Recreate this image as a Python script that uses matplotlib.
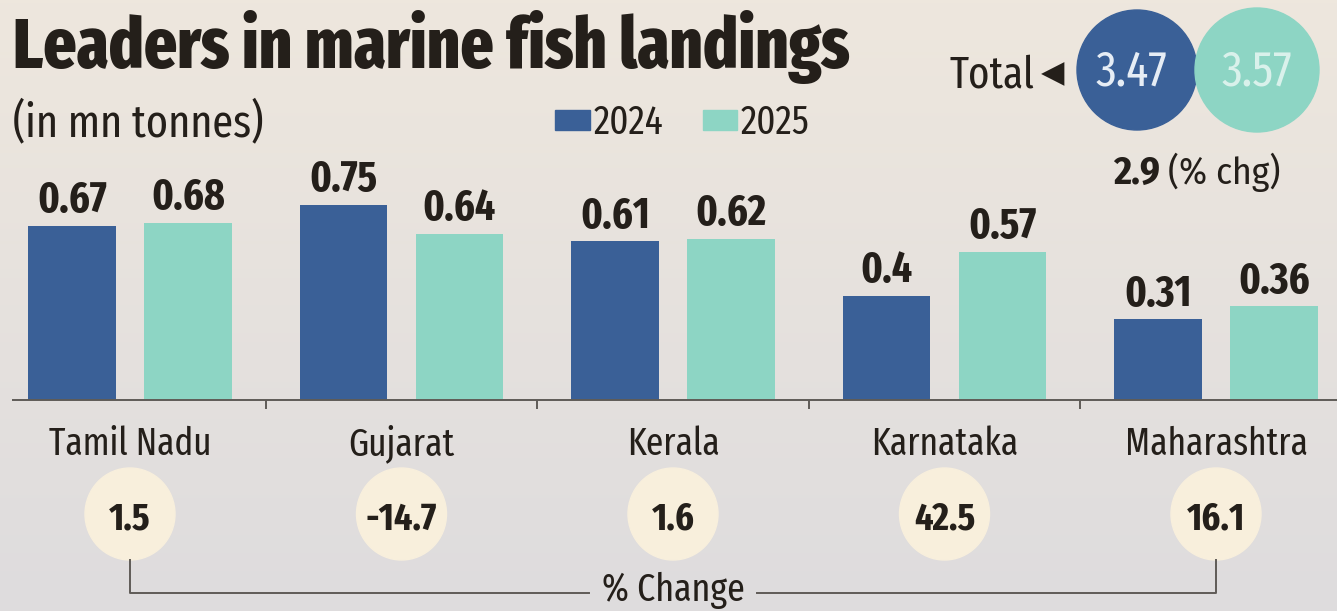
import numpy as np
import matplotlib.pyplot as plt
from matplotlib import font_manager as fm
from matplotlib.patches import Ellipse, Circle, Rectangle

# data
states = ["Tamil Nadu", "Gujarat", "Kerala", "Karnataka", "Maharashtra"]
y2024 = [0.67, 0.75, 0.61, 0.40, 0.31]
y2025 = [0.68, 0.64, 0.62, 0.57, 0.36]
labels2024 = ["0.67", "0.75", "0.61", "0.4", "0.31"]
labels2025 = ["0.68", "0.64", "0.62", "0.57", "0.36"]
pct_change = ["1.5", "-14.7", "1.6", "42.5", "16.1"]
years = ["2024", "2025"]
total_2024 = "3.47"
total_2025 = "3.57"
total_chg = "2.9"

BLUE = "#3a6097"
TEAL = "#8dd5c4"
CREAM = "#f8efdc"
INK = "#241f1a"
LINE = "#5f5b57"

have = {f.name for f in fm.fontManager.ttflist}


def pick(*cands):
    for c in cands:
        if c in have:
            return c
    return "DejaVu Sans"


COND = pick("Fira Sans Condensed", "Roboto Condensed", "IBM Plex Sans Condensed",
            "Liberation Sans Narrow")
XCOND = pick("Fira Sans Extra Condensed", "Fira Sans Condensed", "Roboto Condensed",
             "IBM Plex Sans Condensed")
NARROW = [COND, "DejaVu Sans"]
XNARROW = [XCOND, "DejaVu Sans"]
plt.rcParams["font.family"] = NARROW

W, H = 1337, 611
fig = plt.figure(figsize=(W / 100, H / 100), dpi=100)

# background + header decorations in pixel coordinates
deco = fig.add_axes([0, 0, 1, 1])
deco.set_xlim(0, W)
deco.set_ylim(H, 0)
deco.axis("off")
top = np.array([238, 231, 221]) / 255
bot = np.array([222, 220, 221]) / 255
t = np.linspace(0, 1, 200)[:, None, None]
grad = top * (1 - t) + bot * t
grad = np.repeat(grad, 2, axis=1)
deco.imshow(grad, extent=(0, W, H, 0), aspect="auto", zorder=0)

deco.text(13, 68, "Leaders in marine fish landings", fontsize=50.5,
          fontweight="heavy", color=INK, va="baseline", family=XNARROW)
deco.text(13, 136, "(in mn tonnes)", fontsize=33, color=INK, va="baseline",
          family=XNARROW)

deco.add_patch(Rectangle((555, 110), 35, 20, color=BLUE))
deco.text(594, 134, years[0], fontsize=29, color=INK, va="baseline", family=XNARROW)
deco.add_patch(Rectangle((703, 110), 34, 20, color=TEAL))
deco.text(741, 134, years[1], fontsize=29, color=INK, va="baseline", family=XNARROW)

deco.text(1034, 87, "Total", fontsize=32, color=INK, ha="right", va="baseline",
          family=XNARROW)
deco.text(1053, 74, "\u25C0", fontsize=22, color=INK, ha="center", va="center",
          family="DejaVu Sans")
deco.add_patch(Circle((1137, 70), 60, color=BLUE))
deco.add_patch(Circle((1257, 70), 62, color=TEAL))
deco.text(1131, 72, total_2024, fontsize=36, color="#e6edf5", ha="center",
          va="center", family=XNARROW)
deco.text(1257, 72, total_2025, fontsize=36, color="#d9f1eb", ha="center",
          va="center", family=XNARROW)
deco.text(1160, 184, total_chg, fontsize=28, fontweight="bold", color=INK,
          ha="right", va="baseline")
deco.text(1168, 184, "(% chg)", fontsize=27, color=INK, va="baseline")

# main chart
px_unit_x = 271.5
px_unit_y = 260
ax = fig.add_axes([12 / W, 0, (W - 12) / W, 471 / H])
ax.patch.set_visible(False)
ax.set_xlim(-118 / px_unit_x, -118 / px_unit_x + (W - 12) / px_unit_x)
ax.set_ylim(-211 / px_unit_y, 1.0)
ax.axis("off")

x = np.arange(len(states))
off = 0.2136
bw = 0.324
ax.bar(x - off, y2024, width=bw, color=BLUE, zorder=2)
ax.bar(x + off, y2025, width=bw, color=TEAL, zorder=2)

for xi, v, lab in zip(x - off, y2024, labels2024):
    ax.annotate(lab, (xi, v), xytext=(0, 10), textcoords="offset points",
                ha="center", va="baseline", fontsize=31, fontweight="bold",
                color=INK, family=XNARROW)
for xi, v, lab in zip(x + off, y2025, labels2025):
    ax.annotate(lab, (xi, v), xytext=(0, 10), textcoords="offset points",
                ha="center", va="baseline", fontsize=31, fontweight="bold",
                color=INK, family=XNARROW)

ax.axhline(0, color=LINE, lw=1.4, zorder=3)
ax.vlines(x[:-1] + 0.5, -9 / px_unit_y, 0, color=LINE, lw=1.4)

for xi, name in zip(x, states):
    ax.text(xi, -55 / px_unit_y, name, ha="center", va="baseline",
            fontsize=27.5, color=INK, family=XNARROW)

cy = -114 / px_unit_y
for xi, p in zip(x, pct_change):
    ax.add_patch(Ellipse((xi, cy), 90 / px_unit_x, 92 / px_unit_y,
                         color=CREAM, zorder=2))
    ax.text(xi, -130 / px_unit_y, p, ha="center", va="baseline",
            fontsize=28, fontweight="bold", color=INK, zorder=3, family=XNARROW)

# % change bracket
c_bot = cy - 46 / px_unit_y
b_y = -193 / px_unit_y
mid = x[len(x) // 2]
ax.plot([x[0], x[0], mid - 0.31], [c_bot, b_y, b_y], color=LINE, lw=1.4)
ax.plot([mid + 0.31, x[-1], x[-1]], [b_y, b_y, c_bot], color=LINE, lw=1.4)
ax.text(mid, -201 / px_unit_y, "% Change", ha="center", va="baseline",
        fontsize=28, color=INK, family=XNARROW)

fig.savefig("out.png", dpi=100)
